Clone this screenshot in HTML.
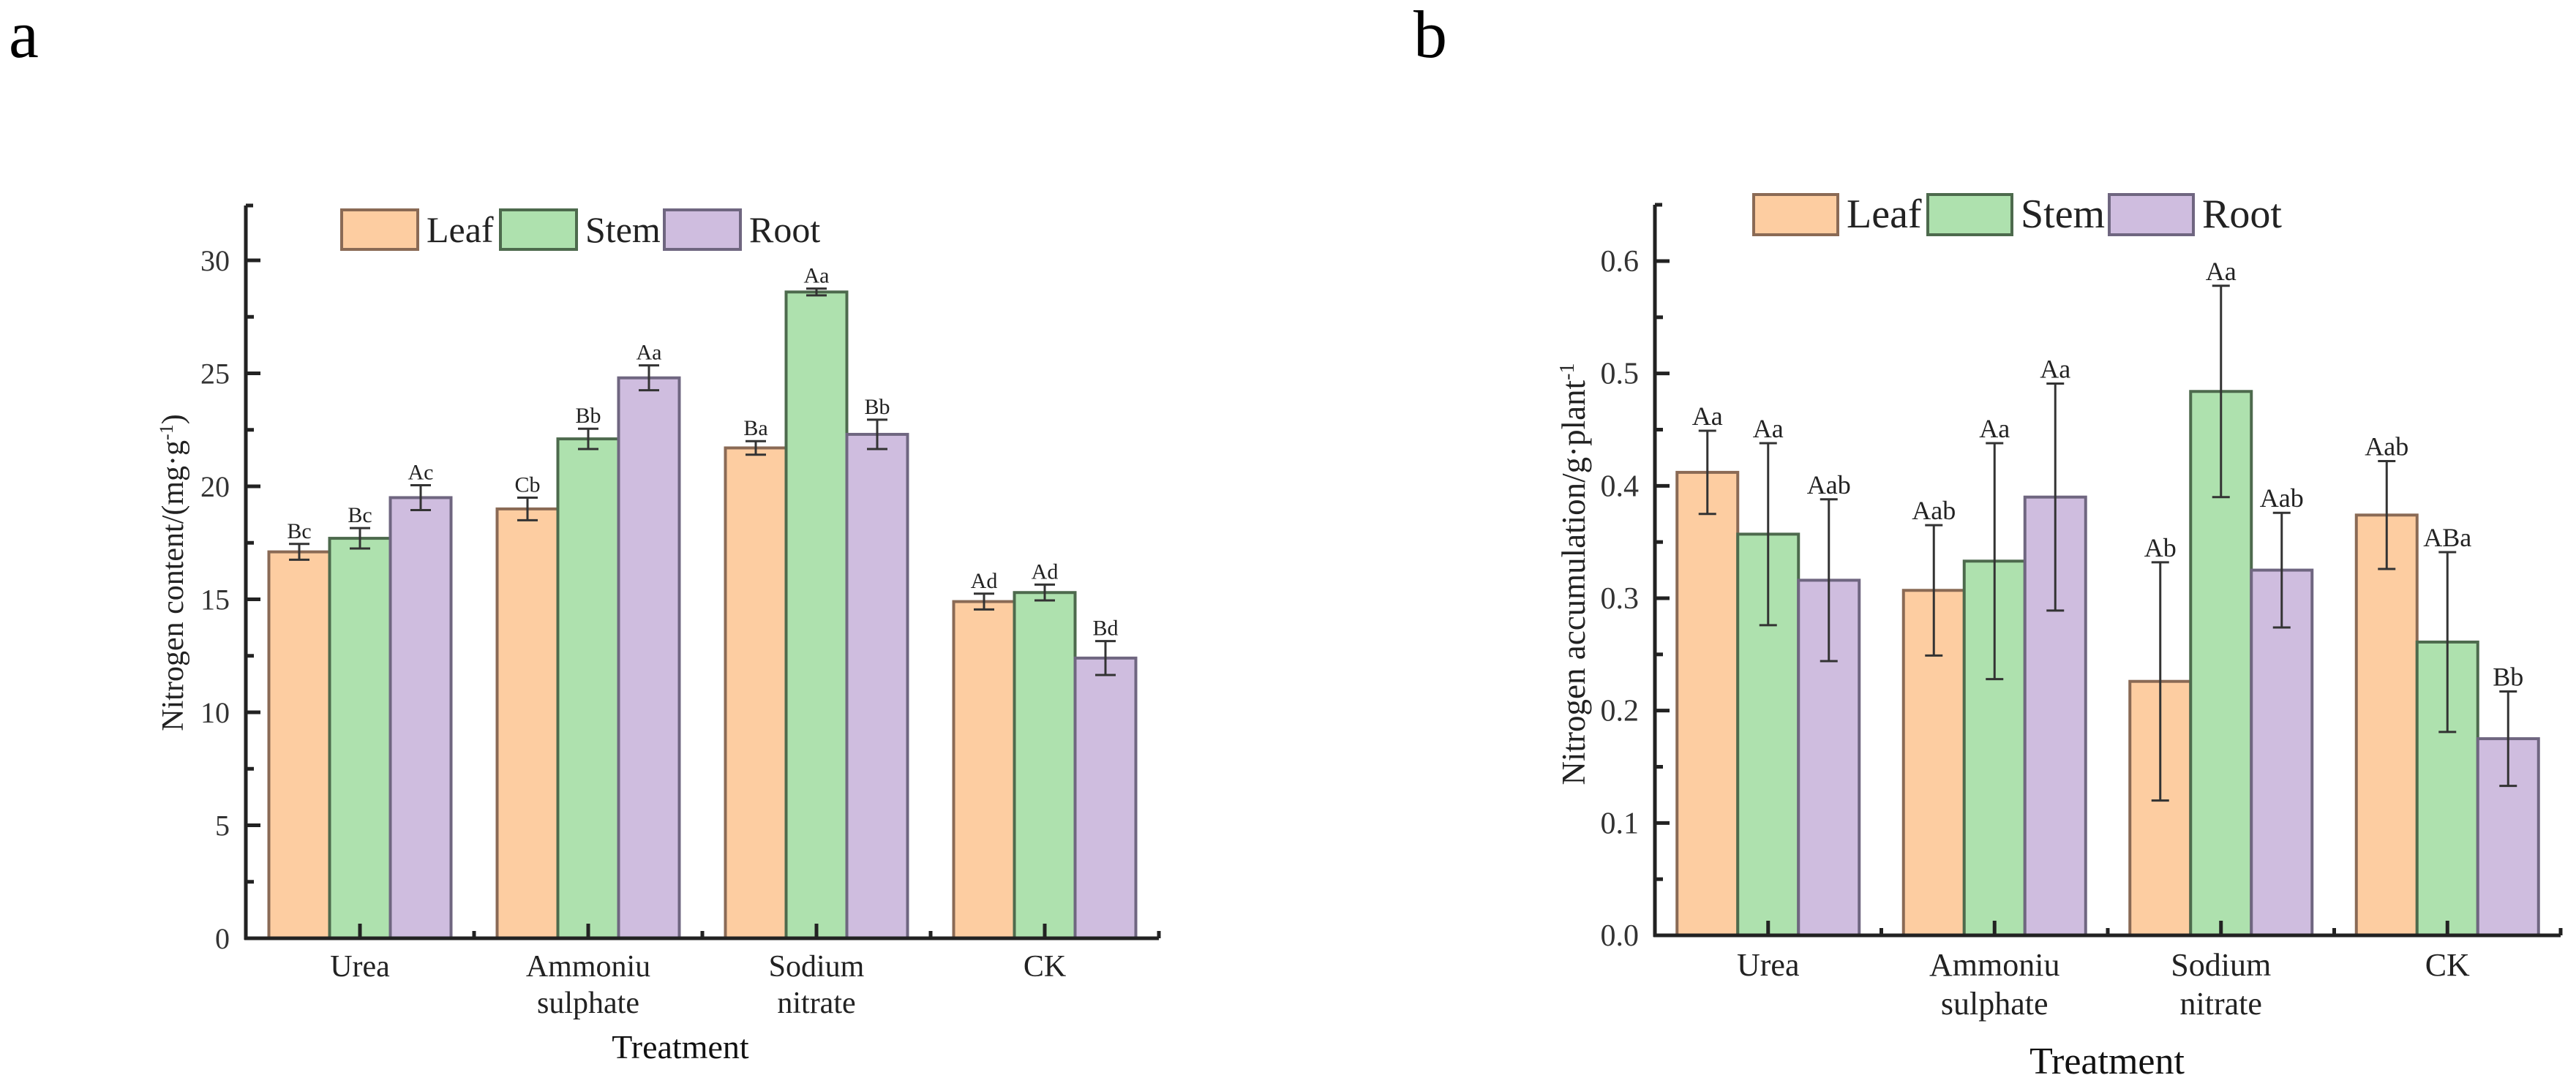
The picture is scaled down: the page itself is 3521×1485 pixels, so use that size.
<!DOCTYPE html>
<html><head><meta charset="utf-8">
<style>
html,body{margin:0;padding:0;background:#fff;}
svg{display:block;font-family:"Liberation Serif",serif;}
</style></head>
<body>
<svg id="fig" width="3521" height="1485" viewBox="0 0 3521 1485" xmlns="http://www.w3.org/2000/svg">
<text x="12" y="78" font-size="92">a</text>
<text x="1932" y="78" font-size="92">b</text>
<g id="chartA"></g>
<g id="chartB"></g>
</svg>
<script>
const categories = ["Urea", "Ammoniu|sulphate", "Sodium|nitrate", "CK"];
const seriesNames = ["Leaf", "Stem", "Root"];
const aLeaf = [17.1, 19.0, 21.7, 14.9];
const aStem = [17.7, 22.1, 28.6, 15.3];
const aRoot = [19.5, 24.8, 22.3, 12.4];
const aLeafErr = [0.35, 0.5, 0.3, 0.35];
const aStemErr = [0.45, 0.45, 0.15, 0.35];
const aRootErr = [0.55, 0.55, 0.65, 0.75];
const aLabels = [["Bc","Bc","Ac"],["Cb","Bb","Aa"],["Ba","Aa","Bb"],["Ad","Ad","Bd"]];
const aTicks = ["0","5","10","15","20","25","30"];
const bLeaf = [0.412, 0.307, 0.226, 0.374];
const bStem = [0.357, 0.333, 0.484, 0.261];
const bRoot = [0.316, 0.390, 0.325, 0.175];
const bLeafErr = [0.037, 0.058, 0.106, 0.048];
const bStemErr = [0.081, 0.105, 0.094, 0.080];
const bRootErr = [0.072, 0.101, 0.051, 0.042];
const bLabels = [["Aa","Aa","Aab"],["Aab","Aa","Aa"],["Ab","Aa","Aab"],["Aab","ABa","Bb"]];
const bTicks = ["0.0","0.1","0.2","0.3","0.4","0.5","0.6"];

const NS = "http://www.w3.org/2000/svg";
const fills = ["#FDCDA1", "#AEE1AE", "#CFBDDF"];
const strokes = ["#8a6a55", "#4d6a4d", "#6f6680"];
function mk(tag, attrs, parent) {
  const e = document.createElementNS(NS, tag);
  for (const k in attrs) e.setAttribute(k, attrs[k]);
  parent.appendChild(e);
  return e;
}

function drawChart(g, cfg) {
  const yScale = v => cfg.y0 - (v - cfg.vmin) / (cfg.vmax - cfg.vmin) * (cfg.y0 - cfg.yTop);
  const xCenter = i => cfg.x0 + cfg.spacing * (i + 0.5);
  const series = [cfg.leaf, cfg.stem, cfg.root];
  const errs = [cfg.leafErr, cfg.stemErr, cfg.rootErr];
  // bars
  for (let i = 0; i < categories.length; i++) {
    for (let s = 0; s < 3; s++) {
      const x = xCenter(i) + (s - 1.5) * cfg.bw;
      const y = yScale(series[s][i]);
      const r = mk("rect", {x: x, y: y, width: cfg.bw, height: cfg.y0 - y, fill: fills[s], stroke: strokes[s], "stroke-width": 4}, g);
      
      
    }
  }
  // error bars & labels
  for (let i = 0; i < categories.length; i++) {
    for (let s = 0; s < 3; s++) {
      const cx = xCenter(i) + (s - 1) * cfg.bw;
      const yt = yScale(series[s][i] + errs[s][i]);
      const yb = yScale(series[s][i] - errs[s][i]);
      const eg = mk("g", {stroke: "#333", "stroke-width": 3}, g);
      
      
      mk("line", {x1: cx, y1: yt, x2: cx, y2: yb}, eg);
      mk("line", {x1: cx - cfg.cap, y1: yt, x2: cx + cfg.cap, y2: yt}, eg);
      mk("line", {x1: cx - cfg.cap, y1: yb, x2: cx + cfg.cap, y2: yb}, eg);
      const t = mk("text", {x: cx, y: yt - 8, "font-size": cfg.annFont, "text-anchor": "middle", fill: "#222"}, g);
      t.textContent = cfg.labels[i][s];
      
      
    }
  }
  // axes
  const ax = mk("g", {stroke: "#222", "stroke-width": 5}, g);
  
  
  const xEnd = cfg.x0 + cfg.spacing * categories.length;
  mk("line", {x1: cfg.x0, y1: cfg.axisTop, x2: cfg.x0, y2: cfg.y0 + 2}, ax);
  mk("line", {x1: cfg.x0 - 2, y1: cfg.y0, x2: xEnd, y2: cfg.y0}, ax);
  mk("line", {x1: cfg.x0, y1: cfg.axisTop, x2: cfg.x0 + 10, y2: cfg.axisTop}, ax);
  // y ticks
  for (let k = 0; k < cfg.ticks.length; k++) {
    const v = cfg.vmin + k * cfg.step;
    const y = yScale(v);
    mk("line", {x1: cfg.x0, y1: y, x2: cfg.x0 + 20, y2: y}, ax);
    if (k < cfg.ticks.length - 1) {
      const ym = yScale(v + cfg.step / 2);
      mk("line", {x1: cfg.x0, y1: ym, x2: cfg.x0 + 11, y2: ym}, ax);
    }
    const t = mk("text", {x: cfg.x0 - 22, y: y + 14, "font-size": cfg.tickFont, "text-anchor": "end", fill: "#333"}, g);
    t.textContent = cfg.ticks[k];
    
    
  }
  // x ticks and labels
  for (let i = 0; i <= categories.length; i++) {
    const xb = cfg.x0 + cfg.spacing * i;
    if (i > 0) mk("line", {x1: xb, y1: cfg.y0, x2: xb, y2: cfg.y0 - 10}, ax);
    if (i < categories.length) {
      const xc = xCenter(i);
      mk("line", {x1: xc, y1: cfg.y0, x2: xc, y2: cfg.y0 - 20}, ax);
      const lines = categories[i].split("|");
      lines.forEach((ln, j) => {
        const t = mk("text", {x: xc, y: cfg.xlab1 + j * cfg.xlabGap, "font-size": cfg.catFont, "text-anchor": "middle", fill: "#222"}, g);
        t.textContent = ln;
        
        
      });
    }
  }
  const xt = mk("text", {x: cfg.xTitleX, y: cfg.xTitleY, "font-size": cfg.titleFont, "text-anchor": "middle", fill: "#111"}, g);
  xt.textContent = "Treatment";
  
  
  const yt = mk("text", {x: 0, y: 0, "font-size": cfg.yFont, "text-anchor": "middle", fill: "#222", transform: "translate(" + cfg.yTitleX + "," + cfg.yTitleY + ") rotate(-90)"}, g);
  yt.innerHTML = cfg.yTitle;
  
  
  // legend
  for (let s = 0; s < 3; s++) {
    const lg = mk("g", {}, g);
    
    
    mk("rect", {x: cfg.legX[s], y: cfg.legY, width: cfg.legW, height: cfg.legH, fill: fills[s], stroke: strokes[s], "stroke-width": 4}, lg);
    const t = mk("text", {x: cfg.legX[s] + cfg.legW + 12, y: cfg.legY + cfg.legH - 10, "font-size": cfg.legFont, fill: "#222"}, lg);
    t.textContent = seriesNames[s];
  }
}

drawChart(document.getElementById("chartA"), {
  leaf: aLeaf, stem: aStem, root: aRoot, leafErr: aLeafErr, stemErr: aStemErr, rootErr: aRootErr,
  labels: aLabels, ticks: aTicks, vmin: 0, vmax: 30, step: 5,
  x0: 336, y0: 1283, yTop: 356, axisTop: 281, spacing: 312, bw: 83, cap: 14,
  annFont: 30, tickFont: 40, catFont: 42, titleFont: 46, yFont: 42, xlab1: 1335, xlabGap: 50,
  xTitleX: 930, xTitleY: 1447,
  yTitleX: 250, yTitleY: 783, yTitle: 'Nitrogen content/(mg·g<tspan baseline-shift="super" font-size="26">-1</tspan>)',
  legX: [467, 684, 908], legY: 287, legW: 104, legH: 54, legFont: 50
});
drawChart(document.getElementById("chartB"), {
  leaf: bLeaf, stem: bStem, root: bRoot, leafErr: bLeafErr, stemErr: bStemErr, rootErr: bRootErr,
  labels: bLabels, ticks: bTicks, vmin: 0, vmax: 0.6, step: 0.1,
  x0: 2262, y0: 1279, yTop: 357, axisTop: 280, spacing: 309.5, bw: 83, cap: 12,
  annFont: 36, tickFont: 42, catFont: 44, titleFont: 52, yFont: 45, xlab1: 1334, xlabGap: 53,
  xTitleX: 2880, xTitleY: 1468,
  yTitleX: 2166, yTitleY: 785, yTitle: 'Nitrogen accumulation/g·plant<tspan baseline-shift="super" font-size="28">-1</tspan>',
  legX: [2397, 2635, 2883], legY: 266, legW: 115, legH: 55, legFont: 56
});
</script>
</body></html>
